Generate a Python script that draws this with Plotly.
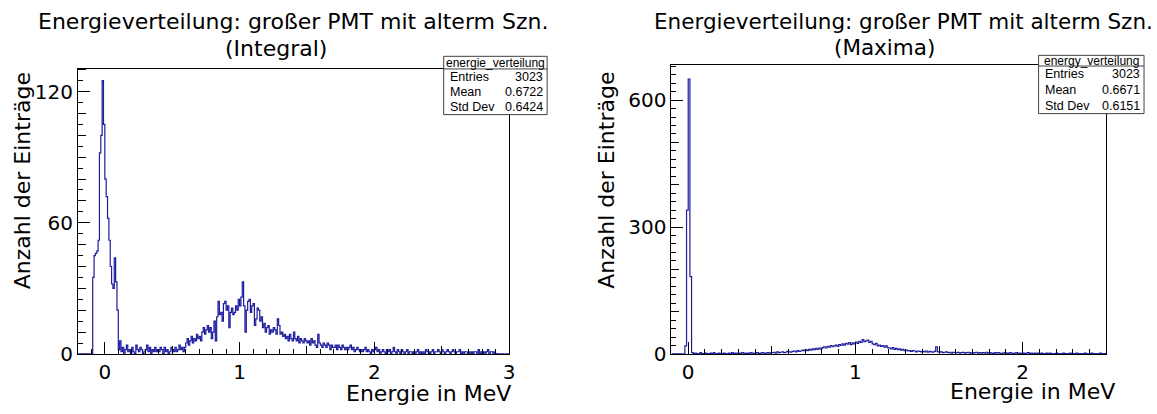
import numpy as np
import plotly.graph_objects as go

W, H = 1157, 414

# ---------------- data ----------------
TITLE_LINE1 = "Energieverteilung: großer PMT mit alterm Szn."
LEFT_SUBTITLE = "(Integral)"
RIGHT_SUBTITLE = "(Maxima)"
X_TITLE = "Energie in MeV"
Y_TITLE = "Anzahl der Einträge"

LEFT_RANGE = (-0.2, 3.0)      # histogram / x-axis range (MeV)
LEFT_YMAX = 130.5
LEFT_COUNTS = [
    0, 0, 0, 0, 0, 0, 0, 0, 0, 0,            # -0.2 .. -0.1
    0, 35, 45, 46, 47, 52, 92, 100, 125, 105,  # -0.1 .. 0.0
    80, 72, 62, 52, 40, 32, 30, 44, 33, 20,    # 0.0 .. 0.1
    2, 6, 1, 3, 0, 2, 4, 1, 2, 0,
    3, 1, 0, 4, 2, 1, 3, 2, 0, 1,
    2, 4, 1, 3, 0, 2, 1, 3, 1, 2,
    1, 3, 2, 0, 3, 1, 2, 0, 1, 3,
    2, 1, 3, 1, 2, 4, 2, 3, 1, 3,
    5, 7, 4, 6, 8, 5, 7, 6, 9, 7,              # 0.6
    8, 6, 10, 12, 9, 11, 13, 10, 12, 7,
    10, 15, 6, 17, 24, 18, 19, 15, 23, 24,     # 0.8
    20, 22, 12, 19, 21, 18, 19, 22, 20, 25,
    22, 26, 33, 22, 10, 20, 24, 25, 19, 22,    # 1.0
    23, 13, 16, 21, 20, 15, 17, 12, 14, 10,
    12, 13, 9, 11, 10, 12, 11, 9, 16, 13,      # 1.2
    9, 10, 8, 9, 7, 8, 6, 9, 7, 6,
    10, 7, 6, 8, 5, 7, 6, 5, 7, 6,             # 1.4
    5, 6, 4, 7, 5, 6, 4, 3, 9, 5,
    4, 3, 5, 4, 3, 5, 4, 2, 4, 3,              # 1.6
    3, 4, 2, 4, 3, 2, 4, 3, 2, 3,
    2, 3, 4, 2, 3, 1, 2, 3, 2, 1,              # 1.8
    2, 1, 2, 3, 1, 2, 1, 0, 2, 1,
    2, 3, 1, 2, 0, 1, 2, 1, 0, 2,              # 2.0
    1, 2, 0, 1, 3, 1, 0, 2, 1, 0,
    2, 1, 0, 1, 2, 0, 1, 1, 0, 1,              # 2.2
    0, 1, 2, 0, 1, 0, 1, 0, 2, 1,
    1, 0, 1, 2, 0, 1, 1, 2, 1, 0,              # 2.4
    2, 1, 0, 1, 2, 1, 0, 1, 2, 1,
    0, 1, 1, 2, 0, 1, 0, 1, 1, 0,              # 2.6
    1, 0, 1, 0, 1, 1, 0, 2, 0, 1,
    0, 1, 0, 1, 2, 0, 1, 1, 0, 1,              # 2.8
    0, 0, 0, 0, 0, 0, 0, 0, 0, 0,
]

RIGHT_RANGE = (-0.1, 2.5)
RIGHT_YMAX = 683
RIGHT_COUNTS = [
    0, 0, 0, 0, 0, 0, 0, 0, 19, 340,           # -0.1 .. 0.0
    650, 183, 3, 1, 2, 0, 1, 3, 1, 0,          # 0.0 .. 0.1
    2, 1, 0, 2, 1, 3, 1, 0, 2, 1,
    1, 2, 1, 0, 2, 1, 3, 1, 2, 0,
    2, 1, 3, 2, 1, 2, 0, 3, 2, 1,
    2, 3, 1, 2, 3, 2, 1, 3, 2, 3,
    3, 4, 2, 5, 3, 4, 5, 3, 4, 6,              # 0.5
    5, 4, 6, 7, 5, 8, 6, 7, 9, 8,
    10, 8, 11, 9, 12, 10, 13, 11, 14, 12,      # 0.7
    15, 17, 14, 18, 16, 20, 17, 19, 21, 18,
    22, 20, 24, 21, 25, 23, 27, 22, 26, 24,    # 0.9
    28, 25, 30, 27, 34, 29, 31, 33, 27, 30,
    24, 22, 25, 19, 21, 18, 20, 16, 19, 15,    # 1.1
    14, 12, 15, 11, 13, 10, 12, 9, 11, 8,
    9, 7, 8, 6, 8, 7, 5, 7, 6, 5,              # 1.3
    6, 5, 7, 4, 6, 5, 4, 6, 17, 5,
    4, 5, 3, 4, 5, 3, 4, 2, 4, 3,              # 1.5
    3, 4, 2, 3, 4, 2, 3, 4, 2, 3,
    2, 3, 4, 2, 3, 2, 3, 2, 4, 2,              # 1.7
    3, 2, 1, 3, 2, 3, 2, 1, 2, 3,
    2, 1, 3, 2, 1, 2, 3, 1, 2, 1,              # 1.9
    2, 1, 2, 3, 1, 2, 1, 2, 1, 2,
    1, 2, 1, 0, 2, 1, 2, 1, 0, 1,              # 2.1
    2, 1, 0, 1, 2, 1, 1, 0, 2, 1,
    1, 0, 2, 1, 1, 0, 1, 2, 1, 0,              # 2.3
    1, 2, 0, 1, 1, 0, 2, 1, 0, 1,
]

LEFT_STATS = {"name": "energie_verteilung", "Entries": "3023", "Mean": "0.6722", "Std Dev": "0.6424"}
RIGHT_STATS = {"name": "energy_verteilung", "Entries": "3023", "Mean": "0.6671", "Std Dev": "0.6151"}

# ---------------- helpers ----------------
def px(x):
    return x / W


def py(y):
    return 1 - y / H


LINE_COLOR = "#1c1c9e"
FONT = "DejaVu Sans"
STAT_FONT = "Liberation Sans"

fig = go.Figure()


def add_hist(counts, rng, xa, ya):
    edges = np.linspace(rng[0], rng[1], len(counts) + 1)
    ys = list(counts) + [counts[-1]]
    fig.add_trace(go.Scatter(x=edges, y=ys, mode="lines", line=dict(color=LINE_COLOR, width=1.2, shape="hv"),
                             xaxis=xa, yaxis=ya, showlegend=False, hoverinfo="skip"))


add_hist(LEFT_COUNTS, LEFT_RANGE, "x", "y")
add_hist(RIGHT_COUNTS, RIGHT_RANGE, "x2", "y2")
# invisible traces to host the secondary tick overlays
fig.add_trace(go.Scatter(x=list(LEFT_RANGE), y=[0, 0], mode="lines", line=dict(color="rgba(0,0,0,0)"),
                         xaxis="x3", yaxis="y3", showlegend=False, hoverinfo="skip"))
fig.add_trace(go.Scatter(x=list(RIGHT_RANGE), y=[0, 0], mode="lines", line=dict(color="rgba(0,0,0,0)"),
                         xaxis="x4", yaxis="y4", showlegend=False, hoverinfo="skip"))

tickfont = dict(family=FONT, size=20, color="black")

# geometry (pixels)
L_X0, L_X1, L_Y0, L_Y1 = 78.3, 511.7, 70.7, 364.5
R_X0, R_X1, R_Y0, R_Y1 = 675.0, 1112.0, 67.0, 364.5


def main_x(domain, rng, anchor):
    return dict(domain=domain, range=list(rng), anchor=anchor, showline=True, mirror=True,
                linecolor="black", linewidth=1, ticks="inside", ticklen=12, tickcolor="black",
                dtick=1, tick0=0, showgrid=False, zeroline=False, tickfont=tickfont,
                minor=dict(dtick=0.1, tick0=0, ticks="inside", ticklen=5, tickcolor="black", showgrid=False))


def main_y(domain, rng, anchor, dtick, minor):
    return dict(domain=domain, range=list(rng), anchor=anchor, showline=True, mirror=True,
                linecolor="black", linewidth=1, ticks="inside", ticklen=12, tickcolor="black",
                dtick=dtick, tick0=0, showgrid=False, zeroline=False, tickfont=tickfont,
                minor=dict(dtick=minor, tick0=0, ticks="inside", ticklen=5, tickcolor="black", showgrid=False))


def over_x(overlaying, rng, anchor, dtick):
    return dict(overlaying=overlaying, range=list(rng), anchor=anchor, side="bottom", showline=False,
                ticks="inside", ticklen=8, tickcolor="black", dtick=dtick, tick0=0,
                showticklabels=False, showgrid=False, zeroline=False)


def over_y(overlaying, rng, anchor, dtick):
    return dict(overlaying=overlaying, range=list(rng), anchor=anchor, side="left", showline=False,
                ticks="inside", ticklen=8, tickcolor="black", dtick=dtick, tick0=0,
                showticklabels=False, showgrid=False, zeroline=False)


ldx = [px(L_X0), px(L_X1)]
ldy = [py(L_Y1), py(L_Y0)]
rdx = [px(R_X0), px(R_X1)]
rdy = [py(R_Y1), py(R_Y0)]

fig.update_layout(
    width=W, height=H, margin=dict(l=0, r=0, t=0, b=0),
    paper_bgcolor="white", plot_bgcolor="white", showlegend=False,
    xaxis=main_x(ldx, LEFT_RANGE, "y"),
    yaxis=main_y(ldy, (0, LEFT_YMAX), "x", 60, 5),
    xaxis2=main_x(rdx, RIGHT_RANGE, "y2"),
    yaxis2=main_y(rdy, (0, RIGHT_YMAX), "x2", 300, 20),
    xaxis3=over_x("x", LEFT_RANGE, "y", 0.5),
    yaxis3=over_y("y", (0, LEFT_YMAX), "x", 10),
    xaxis4=over_x("x2", RIGHT_RANGE, "y2", 0.5),
    yaxis4=over_y("y2", (0, RIGHT_YMAX), "x2", 100),
)

ann = []
shapes = []


def text(x, y, s, size=19, family=FONT, xanchor="center", yanchor="middle", angle=0):
    ann.append(dict(x=px(x), y=py(y), xref="paper", yref="paper", text=s, showarrow=False,
                    xanchor=xanchor, yanchor=yanchor, textangle=angle,
                    font=dict(family=family, size=size, color="black")))


# titles
text(295, 22, TITLE_LINE1, size=22)
text(277, 50, LEFT_SUBTITLE, size=22)
text(908, 22, TITLE_LINE1, size=21.5)
text(889, 49, RIGHT_SUBTITLE, size=21.5)

# axis titles
text(516, 405, X_TITLE, size=22, xanchor="right")
text(1123, 403, X_TITLE, size=22, xanchor="right")
text(23, 72, Y_TITLE, size=22, yanchor="top", angle=-90)
text(609.5, 72, Y_TITLE, size=22, yanchor="top", angle=-90)


def stats_box(x0, x1, y0, ydiv, y1, stats):
    shapes.append(dict(type="rect", xref="paper", yref="paper", x0=px(x0), x1=px(x1), y0=py(y1), y1=py(y0),
                       line=dict(color="#404040", width=1), fillcolor="white", layer="above"))
    shapes.append(dict(type="line", xref="paper", yref="paper", x0=px(x0), x1=px(x1), y0=py(ydiv), y1=py(ydiv),
                       line=dict(color="#404040", width=1), layer="above"))
    text((x0 + x1) / 2, (y0 + ydiv) / 2, stats["name"], size=12, family=STAT_FONT)
    rows = ["Entries", "Mean", "Std Dev"]
    h = (y1 - ydiv) / 3
    for i, r in enumerate(rows):
        yc = ydiv + h * (i + 0.5)
        text(x0 + 4, yc, r, size=12.5, family=STAT_FONT, xanchor="left")
        text(x1 - 2, yc, stats[r], size=12.5, family=STAT_FONT, xanchor="right")


stats_box(446, 550, 58, 71, 118, LEFT_STATS)
stats_box(1044, 1150, 57, 68, 117, RIGHT_STATS)

fig.update_layout(annotations=ann, shapes=shapes)
fig.write_html("out.html")
